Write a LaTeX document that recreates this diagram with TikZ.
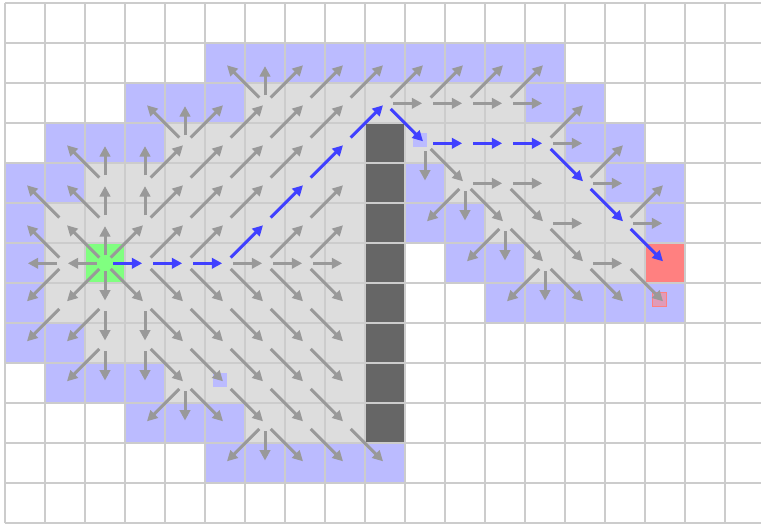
\documentclass[tikz,border=0pt]{standalone}
\usepackage{tikz}
\usetikzlibrary{arrows.meta}
\definecolor{visited}{RGB}{221,221,221}
\definecolor{frontier}{RGB}{187,187,255}
\definecolor{wallgray}{RGB}{102,102,102}
\definecolor{startgreen}{RGB}{128,255,128}
\definecolor{goalred}{RGB}{255,128,128}
\definecolor{gridline}{RGB}{204,204,204}
\definecolor{arrowgray}{RGB}{153,153,153}
\definecolor{pathblue}{RGB}{64,64,255}

\begin{document}
\begin{tikzpicture}[
    cellgrid/.style={draw=gridline, line width=0.05cm},
    visitedcell/.style={fill=visited},
    frontiercell/.style={fill=frontier},
    wallcell/.style={fill=wallgray},
    startcell/.style={fill=startgreen},
    goalcell/.style={fill=goalred},
    marker/.style={rectangle, minimum size=0.35cm, inner sep=0pt},
    flow/.style={-{Triangle[length=0.26cm,width=0.26cm]}, line width=0.075cm, draw=arrowgray, shorten <=0.2cm, shorten >=0.07cm},
    pathflow/.style={flow, draw=pathblue}
]
\useasboundingbox (-0.125,-13.07) rectangle (18.9,0.0825);

% Cell centres
\foreach \c in {0,...,18}
  \foreach \r in {0,...,12}
    \coordinate (c-\c-\r) at (\c+0.5,-\r-0.5);

% Frontier
\foreach \r/\cs in {1/{5,...,13}, 2/{3,4,5,13,14}, 3/{1,2,3,14,15}, 4/{0,1,10,15,16},
    5/{0,10,11,16}, 6/{0,11,12}, 7/{0,12,13,14,15,16}, 8/{0,1}, 9/{1,2,3},
    10/{3,4,5}, 11/{5,6,7,8,9}}
  \foreach \c in \cs
    \fill[frontiercell] (\c,-\r) rectangle ++(1,-1);

% Visited
\foreach \r/\cs in {2/{6,...,12}, 3/{4,...,8,10,11,12,13}, 4/{2,...,8,11,12,13,14},
    5/{1,...,8,12,13,14,15}, 6/{1,3,4,5,6,7,8,13,14,15}, 7/{1,...,8}, 8/{2,...,8},
    9/{4,...,8}, 10/{6,7,8}}
  \foreach \c in \cs
    \fill[visitedcell] (\c,-\r) rectangle ++(1,-1);

% Wall, start, goal
\fill[wallcell] (9,-3) rectangle (10,-11);
\fill[startcell] (2,-6) rectangle (3,-7);
\fill[goalcell] (16,-6) rectangle (17,-7);

% Grid
\draw[cellgrid] (0,0) grid (19,-13);

% Markers
\node[marker, fill=frontier] (mark-a) at ([shift={(-0.13,0.095)}]c-10-3) {};
\node[marker, fill=frontier] (mark-b) at ([shift={(-0.13,0.095)}]c-5-9) {};
\node[marker, fill=goalred!55!frontier, draw=goalred, line width=0.03cm] (mark-c) at ([shift={(-0.13,0.095)}]c-16-7) {};

% Came-from arrows
\foreach \pc/\pr/\cc/\cr in {
    6/2/5/1, 6/2/6/1, 6/2/7/1, 7/2/8/1, 8/2/9/1, 9/2/10/1, 10/2/11/1, 11/2/12/1, 12/2/13/1,
    4/3/3/2, 4/3/4/2, 4/3/5/2, 5/3/6/2, 6/3/7/2, 7/3/8/2, 9/2/10/2, 10/2/11/2, 11/2/12/2, 12/2/13/2, 13/3/14/2,
    2/4/1/3, 2/4/2/3, 3/4/3/3, 3/4/4/3, 4/4/5/3, 5/4/6/3, 6/4/7/3, 13/3/14/3, 14/4/15/3,
    1/5/0/4, 2/5/1/4, 2/5/2/4, 3/5/3/4, 3/5/4/4, 4/5/5/4, 5/5/6/4, 7/5/8/4, 10/3/10/4, 10/3/11/4,
    11/4/12/4, 12/4/13/4, 14/4/15/4, 15/5/16/4,
    1/6/0/5, 2/6/1/5, 2/6/2/5, 2/6/3/5, 3/6/4/5, 4/6/5/5, 6/6/7/5, 7/6/8/5, 11/4/10/5, 11/4/11/5,
    11/4/12/5, 12/4/13/5, 13/5/14/5, 15/5/16/5,
    1/6/0/6, 2/6/1/6, 5/6/6/6, 6/6/7/6, 7/6/8/6, 12/5/11/6, 12/5/12/6, 12/5/13/6, 13/5/14/6, 14/6/15/6,
    1/6/0/7, 2/6/1/7, 2/6/2/7, 2/6/3/7, 3/6/4/7, 4/6/5/7, 5/6/6/7, 6/6/7/7, 7/6/8/7,
    13/6/12/7, 13/6/13/7, 13/6/14/7, 14/6/15/7, 15/6/16/7,
    1/7/0/8, 2/7/1/8, 2/7/2/8, 3/7/3/8, 3/7/4/8, 4/7/5/8, 5/7/6/8, 6/7/7/8, 7/7/8/8,
    2/8/1/9, 2/8/2/9, 3/8/3/9, 3/8/4/9, 4/8/5/9, 5/8/6/9, 6/8/7/9, 7/8/8/9,
    4/9/3/10, 4/9/4/10, 4/9/5/10, 5/9/6/10, 6/9/7/10, 7/9/8/10,
    6/10/5/11, 6/10/6/11, 6/10/7/11, 7/10/8/11, 8/10/9/11}
  \draw[flow] (c-\pc-\pr) -- (c-\cc-\cr);

% Path from start to goal
\foreach \pc/\pr/\cc/\cr in {2/6/3/6, 3/6/4/6, 4/6/5/6, 5/6/6/5, 6/5/7/4, 7/4/8/3, 8/3/9/2,
    9/2/10/3, 10/3/11/3, 11/3/12/3, 12/3/13/3, 13/3/14/4, 14/4/15/5, 15/5/16/6}
  \draw[pathflow] (c-\pc-\pr) -- (c-\cc-\cr);

\end{tikzpicture}
\end{document}
